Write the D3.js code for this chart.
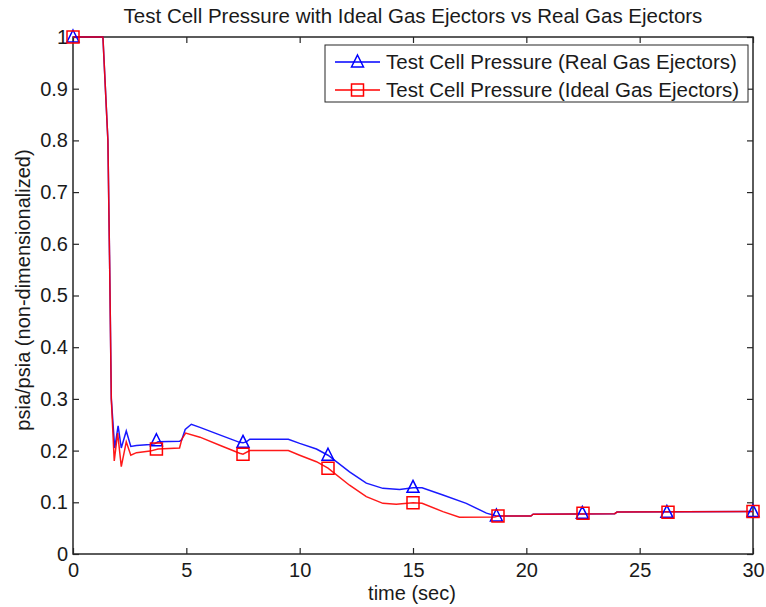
<!DOCTYPE html>
<html>
<head>
<meta charset="utf-8">
<script src="https://cdn.jsdelivr.net/npm/d3@7"></script>
<style>
  body { margin: 0; background: #fff; }
  text { font-family: 'Liberation Sans', Arial, sans-serif; }
</style>
</head>
<body>
<div id="chart"></div>
<script>

// DATA

var realTime  = [0, 1.32, 1.54, 1.62, 1.69, 1.84, 1.99, 2.13, 2.35, 2.55, 2.8, 3.4, 3.6, 3.75, 4.7, 4.8, 4.95, 5.22, 5.6, 6.5, 7.35, 7.5, 7.65, 7.8, 9.5, 10.0, 10.74, 11.25, 12.2, 12.94, 13.67, 14.41, 15.0, 15.4, 16.32, 17.35, 18.24, 18.68, 20.2, 20.3, 23.9, 24.0, 30];
var realValue = [1, 1, 0.8, 0.55, 0.3, 0.205, 0.248, 0.205, 0.238, 0.208, 0.21, 0.212, 0.213, 0.217, 0.218, 0.221, 0.241, 0.251, 0.245, 0.23, 0.216, 0.215, 0.217, 0.222, 0.222, 0.214, 0.203, 0.191, 0.159, 0.137, 0.127, 0.125, 0.128, 0.128, 0.114, 0.098, 0.079, 0.0735, 0.0735, 0.077, 0.078, 0.081, 0.082];

var idealTime  = [0, 1.32, 1.54, 1.62, 1.69, 1.82, 1.97, 2.13, 2.35, 2.55, 2.8, 3.4, 3.75, 4.7, 4.8, 4.97, 5.6, 6.5, 7.35, 7.5, 7.8, 9.5, 10.0, 10.74, 11.25, 12.2, 12.94, 13.67, 14.26, 15.0, 15.4, 16.32, 17.05, 18.6, 18.75, 20.2, 20.3, 23.9, 24.0, 30];
var idealValue = [1, 1, 0.8, 0.55, 0.3, 0.18, 0.234, 0.169, 0.217, 0.191, 0.196, 0.199, 0.203, 0.205, 0.222, 0.234, 0.226, 0.21, 0.195, 0.193, 0.2, 0.2, 0.191, 0.1785, 0.166, 0.133, 0.111, 0.098, 0.096, 0.099, 0.098, 0.082, 0.071, 0.0715, 0.0735, 0.0735, 0.077, 0.078, 0.081, 0.082];

var realMarkerTime   = [0, 3.68, 7.5, 11.25, 15.0, 18.68, 22.47, 26.2, 30];
var realMarkerValue  = [1, 0.219, 0.216, 0.191, 0.129, 0.0735, 0.0787, 0.0806, 0.082];
var idealMarkerTime  = [0, 3.68, 7.5, 11.25, 15.0, 18.75, 22.5, 26.25, 30];
var idealMarkerValue = [1, 0.203, 0.193, 0.166, 0.099, 0.0735, 0.0787, 0.0806, 0.082];

var xTicks = [0, 5, 10, 15, 20, 25, 30];
var yTicks = [0, 0.1, 0.2, 0.3, 0.4, 0.5, 0.6, 0.7, 0.8, 0.9, 1];

var titleText  = 'Test Cell Pressure with Ideal Gas Ejectors vs Real Gas Ejectors';
var xLabelText = 'time (sec)';
var yLabelText = 'psia/psia (non-dimensionalized)';
var legendLabels = ['Test Cell Pressure (Real Gas Ejectors)', 'Test Cell Pressure (Ideal Gas Ejectors)'];

// LAYOUT

var width = 766, height = 607;
var plotLeft = 73, plotRight = 753, plotTop = 37, plotBottom = 554;
var axisColor = '#262626';
var textColor = '#1a1a1a';

var svg = d3.select('#chart')
  .append('svg:svg')
    .attr('width', width)
    .attr('height', height);

svg.append('svg:rect')
  .attr('width', width)
  .attr('height', height)
  .attr('fill', '#fff');

var x = d3.scaleLinear().domain([0, 30]).range([plotLeft, plotRight]);
var y = d3.scaleLinear().domain([0, 1]).range([plotBottom, plotTop]);

// AXES

var fmt = d3.format('~g');

function styleAxis(g) {
  g.selectAll('path').remove();
  g.selectAll('line').attr('stroke', axisColor).attr('stroke-width', 1.2);
  g.selectAll('text')
    .attr('fill', textColor)
    .attr('font-size', 20)
    .attr('font-family', "'Liberation Sans', Arial, sans-serif");
}

svg.append('svg:g')
  .attr('transform', 'translate(0,' + plotBottom + ')')
  .call(d3.axisBottom(x).tickValues(xTicks).tickFormat(fmt).tickSizeInner(-6).tickSizeOuter(0).tickPadding(9))
  .call(styleAxis);

svg.append('svg:g')
  .attr('transform', 'translate(0,' + plotTop + ')')
  .call(d3.axisTop(x).tickValues(xTicks).tickFormat('').tickSizeInner(-6).tickSizeOuter(0))
  .call(styleAxis);

svg.append('svg:g')
  .attr('transform', 'translate(' + plotLeft + ',0)')
  .call(d3.axisLeft(y).tickValues(yTicks).tickFormat(fmt).tickSizeInner(-6).tickSizeOuter(0).tickPadding(5))
  .call(styleAxis);

svg.append('svg:g')
  .attr('transform', 'translate(' + plotRight + ',0)')
  .call(d3.axisRight(y).tickValues(yTicks).tickFormat('').tickSizeInner(-6).tickSizeOuter(0))
  .call(styleAxis);

svg.append('svg:rect')
  .attr('x', plotLeft)
  .attr('y', plotTop)
  .attr('width', plotRight - plotLeft)
  .attr('height', plotBottom - plotTop)
  .attr('fill', 'none')
  .attr('stroke', axisColor)
  .attr('stroke-width', 1.5);

// LINES

function pairs(t, v) {
  return t.map(function(d, i) { return [d, v[i]]; });
}

var line = d3.line()
  .x(function(d) { return x(d[0]); })
  .y(function(d) { return y(d[1]); });

var series = [
  { color: '#0000ff', shape: 'triangle', data: pairs(realTime, realValue), markers: pairs(realMarkerTime, realMarkerValue) },
  { color: '#ff0000', shape: 'square', data: pairs(idealTime, idealValue), markers: pairs(idealMarkerTime, idealMarkerValue) }
];

svg.selectAll('path.series-line')
  .data(series)
  .enter().append('svg:path')
    .attr('class', 'series-line')
    .attr('d', function(d) { return line(d.data); })
    .attr('fill', 'none')
    .attr('stroke', function(d) { return d.color; })
    .attr('stroke-width', 1.5)
    .attr('stroke-opacity', 0.9);

function markerPath(shape) {
  if (shape == 'triangle') return 'M0,-7L6,5L-6,5Z';
  return 'M-6,-6L6,-6L6,6L-6,6Z';
}

series.forEach(function(s) {
  svg.selectAll('path.marker-' + s.shape)
    .data(s.markers)
    .enter().append('svg:path')
      .attr('class', 'marker-' + s.shape)
      .attr('transform', function(d) { return 'translate(' + x(d[0]) + ',' + y(d[1]) + ')'; })
      .attr('d', markerPath(s.shape))
      .attr('fill', 'none')
      .attr('stroke', s.color)
      .attr('stroke-width', 1.5);
});

// TEXT

svg.append('svg:text')
  .text(titleText)
  .attr('x', 413)
  .attr('y', 23)
  .attr('text-anchor', 'middle')
  .attr('font-size', 20.5)
  .attr('fill', textColor);

svg.append('svg:text')
  .text(xLabelText)
  .attr('x', 412)
  .attr('y', 600)
  .attr('text-anchor', 'middle')
  .attr('font-size', 20)
  .attr('fill', textColor);

svg.append('svg:text')
  .text(yLabelText)
  .attr('transform', 'translate(30,290) rotate(-90)')
  .attr('text-anchor', 'middle')
  .attr('font-size', 20)
  .attr('fill', textColor);

// LEGEND

var legend = svg.append('svg:g')
  .attr('class', 'legend');

legend.append('svg:rect')
  .attr('x', 325)
  .attr('y', 45)
  .attr('width', 423)
  .attr('height', 57)
  .attr('fill', '#fff')
  .attr('stroke', axisColor)
  .attr('stroke-width', 1);

var rows = legend.selectAll('g.legend-row')
  .data(series)
  .enter().append('svg:g')
    .attr('class', 'legend-row')
    .attr('transform', function(d, i) { return 'translate(0,' + (62 + i * 28) + ')'; });

rows.append('svg:line')
  .attr('x1', 335)
  .attr('x2', 380)
  .attr('stroke', function(d) { return d.color; })
  .attr('stroke-width', 1.5);

rows.append('svg:path')
  .attr('transform', 'translate(357.5,0)')
  .attr('d', function(d) { return markerPath(d.shape); })
  .attr('fill', 'none')
  .attr('stroke', function(d) { return d.color; })
  .attr('stroke-width', 1.5);

rows.append('svg:text')
  .text(function(d, i) { return legendLabels[i]; })
  .attr('x', 386)
  .attr('dy', 7)
  .attr('font-size', 20.5)
  .attr('fill', textColor);

</script>
</body>
</html>
